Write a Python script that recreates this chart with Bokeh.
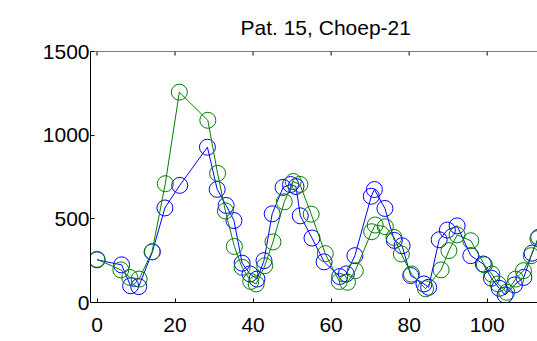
from bokeh.plotting import figure
from bokeh.models import Range1d, FixedTicker, Span
from bokeh.embed import file_html
from bokeh.resources import INLINE

title_text = "Pat. 15, Choep-21"
x_ticks = [0, 20, 40, 60, 80, 100]
y_ticks = [0, 500, 1000, 1500]
y_top = 1500

blue_x = [0, 6.3, 8.6, 10.7, 14.2, 17.4, 21.2, 28.3, 30.8, 33.1, 35.1, 37.2, 39.2, 41, 42.8,
          44.9, 47.7, 49.6, 51, 52.1, 55.1, 58.2, 62.2, 63.9, 66.1, 70.3, 71.1, 73.8, 76.2,
          78.2, 80.4, 83.8, 85, 87.7, 89.8, 92.3, 95.8, 99, 101.1, 103.1, 104.6, 107, 109.4,
          111.5, 113.2]
blue_y = [255, 225, 100, 95, 303, 565, 700, 928, 676, 580, 490, 235, 171, 140, 250,
          530, 688, 705, 693, 518, 385, 243, 155, 171, 280, 635, 675, 562, 371,
          339, 161, 111, 91, 375, 433, 458, 280, 230, 145, 85, 45, 105, 150,
          295, 390]

green_x = [0, 6.1, 8.4, 10.8, 14.1, 17.5, 21.1, 28.4, 30.9, 32.9, 35.2, 37.2, 39.4, 40.8, 43,
           45.1, 48, 50.3, 52, 54.9, 58.5, 62.1, 64.2, 66.2, 70.4, 71.3, 73.9, 76.1, 78,
           80.6, 84.2, 88.2, 90.2, 92.3, 95.8, 99.3, 101.2, 102.8, 105, 107.3, 109.3,
           111.3, 113]
green_y = [258, 195, 150, 140, 303, 710, 1257, 1089, 772, 547, 335, 210, 126, 111, 220,
           362, 602, 723, 706, 528, 292, 126, 121, 190, 423, 463, 453, 389, 290,
           170, 82, 195, 310, 404, 369, 225, 170, 111, 61, 140, 190,
           280, 382]

FONT = "Liberation Sans"

p = figure(width=537, height=341, output_backend="svg", toolbar_location=None,
           x_range=Range1d(-1.67, 112.9), y_range=Range1d(0, y_top),
           min_border_left=90, min_border_right=0, min_border_top=50, min_border_bottom=39,
           title=title_text)
p.title.text_font = FONT
p.title.text_font_size = "21px"
p.title.text_font_style = "normal"
p.title.align = "left"
p.title.offset = 150
p.title.text_color = "black"
p.title.standoff = 26
p.outline_line_color = None
p.grid.visible = False
p.background_fill_color = "white"
p.border_fill_color = "white"

for ax in p.xaxis:
    ax.ticker = FixedTicker(ticks=x_ticks)
for ax in p.yaxis:
    ax.ticker = FixedTicker(ticks=y_ticks)

for ax in list(p.xaxis) + list(p.yaxis):
    ax.axis_line_color = "black"
    ax.axis_line_width = 1
    ax.major_tick_in = 4
    ax.major_tick_out = 0
    ax.minor_tick_line_color = None
    ax.major_tick_line_color = "black"
    ax.major_label_text_font = FONT
    ax.major_label_text_font_size = "21px"
    ax.major_label_text_color = "black"
p.xaxis.major_label_standoff = 15
p.yaxis.major_label_standoff = 1

# top box edge with inward ticks
p.add_layout(Span(location=y_top, dimension="width", line_color="black", line_width=1))
p.segment(x0=x_ticks, y0=[y_top] * len(x_ticks), x1=x_ticks, y1=[y_top - 24] * len(x_ticks),
          line_color="black", line_width=1)

p.line(blue_x, blue_y, line_color="blue", line_width=1)
p.scatter(blue_x, blue_y, marker="circle", size=16, fill_color=None, line_color="blue", line_width=1)
p.line(green_x, green_y, line_color="green", line_width=1)
p.scatter(green_x, green_y, marker="circle", size=16, fill_color=None, line_color="green", line_width=1)

open("out.html", "w").write(file_html(p, INLINE))
